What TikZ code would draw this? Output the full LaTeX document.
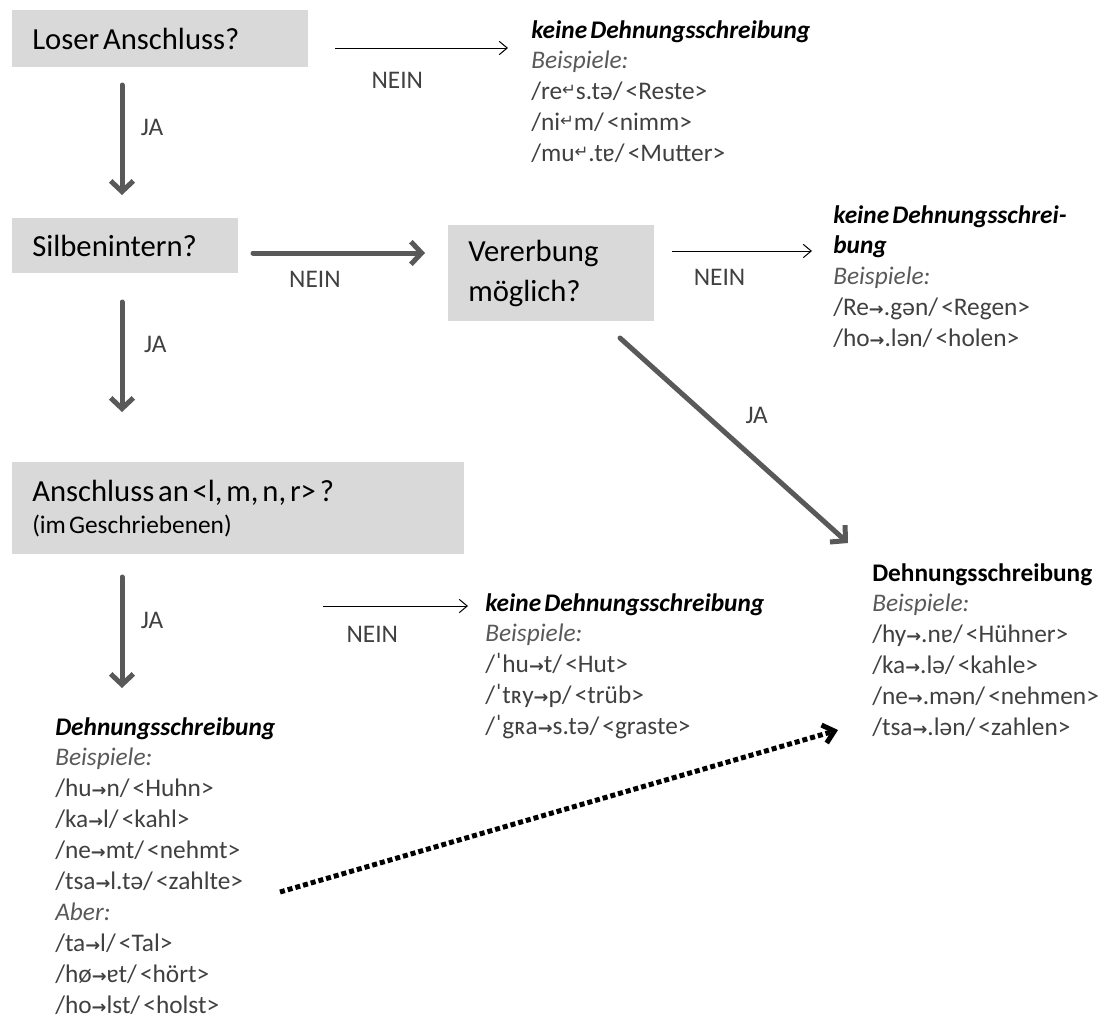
\documentclass[tikz,border=0pt]{standalone}
\usepackage{fontspec}
\setmainfont{Carlito}[WordSpace=0.55]
\newfontfamily\symfont{DejaVu Sans}
\usetikzlibrary{arrows.meta, positioning}

\definecolor{boxgray}{HTML}{D9D9D9}
\definecolor{arrowgray}{HTML}{595959}
\definecolor{textgray}{HTML}{404040}
\definecolor{examplegray}{HTML}{595959}

\newcommand{\lng}{{\symfont\bfseries\scalebox{0.7}{→}}}
\newcommand{\krz}{\raisebox{0.35ex}{\symfont\scalebox{0.65}{↵}}}
\newcommand{\boxfont}{\fontsize{23}{28}\selectfont}
\newcommand{\exfont}{\fontsize{19}{23.2}\selectfont}
\newcommand{\bsp}{{\itshape\color{examplegray}Beispiele:}}

\begin{document}
\begin{tikzpicture}[x=0.75pt, y=-0.75pt,
    box/.style={fill=boxgray, anchor=north west, inner xsep=15pt, inner ysep=0pt, align=flush left, font=\boxfont},
    examples/.style={anchor=north west, inner sep=0pt, align=left, font=\exfont, text=textgray},
    answer/.style={font=\exfont, text=textgray},
    bigarrow/.style={-{Straight Barb[length=8pt, width=17pt]}, line width=3.75pt, arrowgray, line cap=round, line join=round},
    smallarrow/.style={-{Straight Barb[length=6pt, width=10pt]}, line width=0.75pt},
    dotarrow/.style={-{Straight Barb[length=8pt, width=14pt]}, line width=3.75pt, dash pattern=on 3.75pt off 2.25pt}]
    \useasboundingbox (0,0) rectangle (1110,1021);

    % Fragen
    \node[box, text width=192pt, minimum height=42.75pt] (loser) at (12,10) {Loser Anschluss?};
    \node[box, text width=139.5pt, minimum height=41.25pt] (silbe) at (12,218) {Silbenintern?};
    \node[box, text width=124.5pt, minimum height=72pt, font=\fontsize{23}{30}\selectfont] (vererb) at (448,225) {Vererbung\\möglich?};
    \node[box, text width=309pt, minimum height=69pt] (anschl) at (12,462) {Anschluss an <l, m, n, r> ?\\[-4pt]{\fontsize{19}{22}\selectfont (im Geschriebenen)}};

    % Beispiele
    \node[examples] (keine1) at (531,20) {{\bfseries\itshape\color{black}keine Dehnungsschreibung}\\\bsp\\
        /re\krz s.tə/ <Reste>\\/ni\krz m/ <nimm>\\/mu\krz.tɐ/ <Mutter>};
    \node[examples] (keine2) at (833,205) {{\bfseries\itshape\color{black}keine Dehnungsschrei-}\\{\bfseries\itshape\color{black}bung}\\\bsp\\
        /Re\lng.gən/ <Regen>\\/ho\lng.lən/ <holen>};
    \node[examples] (keine3) at (485,593) {{\bfseries\itshape\color{black}keine Dehnungsschreibung}\\\bsp\\
        /ˈhu\lng t/ <Hut>\\/ˈtʀy\lng p/ <trüb>\\/ˈgʀa\lng s.tə/ <graste>};
    \node[examples] (dehn1) at (872,563) {{\bfseries\color{black}Dehnungsschreibung}\\\bsp\\
        /hy\lng.nɐ/ <Hühner>\\/ka\lng.lə/ <kahle>\\/ne\lng.mən/ <nehmen>\\/tsa\lng.lən/ <zahlen>};
    \node[examples] (dehn2) at (55,717) {{\bfseries\itshape\color{black}Dehnungsschreibung}\\\bsp\\
        /hu\lng n/ <Huhn>\\/ka\lng l/ <kahl>\\/ne\lng mt/ <nehmt>\\/tsa\lng l.tə/ <zahlte>\\
        {\itshape\color{examplegray}Aber:}\\/ta\lng l/ <Tal>\\/hø\lng ɐt/ <hört>\\/ho\lng lst/ <holst>};

    % Pfeile
    \coordinate (p1a) at (335,48);  \coordinate (p1b) at (508,48);
    \coordinate (p2a) at (122,85);  \coordinate (p2b) at (122,195);
    \coordinate (p3a) at (253,253); \coordinate (p3b) at (425,253);
    \coordinate (p4a) at (672,251); \coordinate (p4b) at (812,251);
    \coordinate (p5a) at (122,302); \coordinate (p5b) at (122,412);
    \coordinate (p6a) at (620,338); \coordinate (p6b) at (848,543);
    \coordinate (p7a) at (122,577); \coordinate (p7b) at (122,688);
    \coordinate (p8a) at (323,606); \coordinate (p8b) at (468,606);
    \coordinate (p9a) at (280,892); \coordinate (p9b) at (838,730);

    \draw[smallarrow] (p1a) -- (p1b) node[answer, pos=0.36, yshift=-24pt] {NEIN};
    \draw[bigarrow] (p2a) -- (p2b) node[answer, pos=0.39, xshift=22.5pt] {JA};
    \draw[bigarrow] (p3a) -- (p3b) node[answer, pos=0.36, yshift=-20pt] {NEIN};
    \draw[smallarrow] (p4a) -- (p4b) node[answer, pos=0.34, yshift=-20pt] {NEIN};
    \draw[bigarrow] (p5a) -- (p5b) node[answer, pos=0.39, xshift=25pt] {JA};
    \draw[bigarrow] (p6a) -- (p6b) node[answer, pos=0.5, xshift=17pt, yshift=19pt] {JA};
    \draw[bigarrow] (p7a) -- (p7b) node[answer, pos=0.39, xshift=22.5pt] {JA};
    \draw[smallarrow] (p8a) -- (p8b) node[answer, pos=0.34, yshift=-21pt] {NEIN};
    \draw[dotarrow] (p9a) -- (p9b);
\end{tikzpicture}
\end{document}
